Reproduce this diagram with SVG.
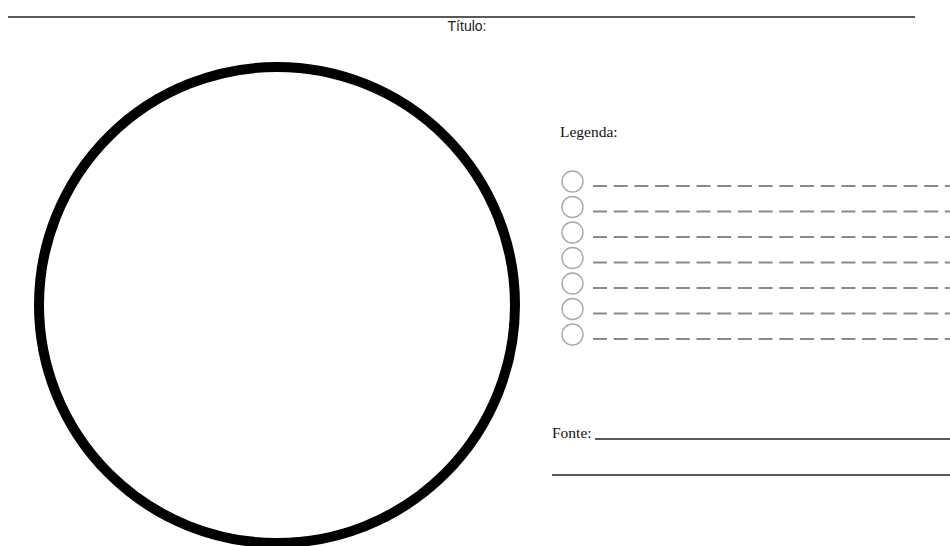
<svg xmlns="http://www.w3.org/2000/svg" width="950" height="546" viewBox="0 0 950 546">
<style>
.rule{stroke:#222;stroke-width:1.3;fill:none}
.serif{font-family:"Liberation Serif","Times New Roman",serif;font-size:15.5px;fill:#111}
.sans{font-family:"Liberation Sans",Arial,sans-serif;font-size:14px;fill:#222}
.lc{fill:none;stroke:#aaa;stroke-width:1.4}
.ld{stroke:#8a8a8a;stroke-width:2;stroke-dasharray:14 6.7}
</style>
<rect width="950" height="546" fill="#fff"/>
<g id="header">
<line class="rule" x1="8" y1="17" x2="915" y2="17" stroke="#555"/>
<text class="sans" x="467" y="31" text-anchor="middle">Título:</text>
</g>
<g id="map-circle">
<circle cx="277" cy="305" r="238" fill="none" stroke="#000" stroke-width="10"/>
</g>
<g id="legend">
<text class="serif" x="560" y="137">Legenda:</text>
<g id="legend-items">
<circle class="lc" cx="572.5" cy="181.5" r="10.5"/>
<circle class="lc" cx="572.5" cy="207" r="10.5"/>
<circle class="lc" cx="572.5" cy="232.5" r="10.5"/>
<circle class="lc" cx="572.5" cy="258" r="10.5"/>
<circle class="lc" cx="572.5" cy="283.5" r="10.5"/>
<circle class="lc" cx="572.5" cy="309" r="10.5"/>
<circle class="lc" cx="572.5" cy="334.5" r="10.5"/>
<line class="ld" x1="593" y1="186" x2="950" y2="186"/>
<line class="ld" x1="593" y1="211.5" x2="950" y2="211.5"/>
<line class="ld" x1="593" y1="237" x2="950" y2="237"/>
<line class="ld" x1="593" y1="262.5" x2="950" y2="262.5"/>
<line class="ld" x1="593" y1="288" x2="950" y2="288"/>
<line class="ld" x1="593" y1="313.5" x2="950" y2="313.5"/>
<line class="ld" x1="593" y1="339" x2="950" y2="339"/>
</g>
</g>
<g id="source">
<text class="serif" x="552" y="438">Fonte:</text>
<line class="rule" x1="595" y1="439" x2="950" y2="439"/>
<line class="rule" x1="552" y1="475" x2="950" y2="475"/>
</g>
</svg>
